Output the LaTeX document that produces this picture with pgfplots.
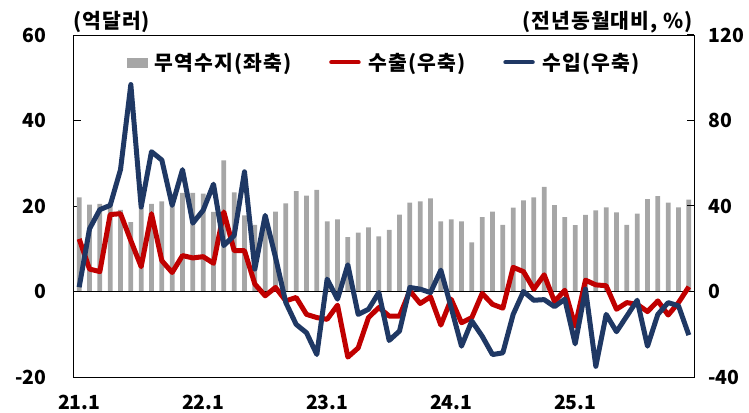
\documentclass[border=0pt]{standalone}
\usepackage{fontspec}
\setmainfont{Noto Sans CJK KR}
\usepackage{pgfplots}
\usepackage{pgfplotstable}
\pgfplotsset{compat=1.18}
\definecolor{barg}{HTML}{A6A6A6}
\definecolor{expred}{HTML}{C00000}
\definecolor{impblue}{HTML}{1F3864}
\newcommand{\kfont}{\fontsize{20.5}{24}\selectfont\bfseries\addfontfeatures{LetterSpace=5}}
\newcommand{\tfont}{\fontsize{19.5}{23}\selectfont\bfseries}
\pgfplotsset{
  redleg/.style={legend image code/.code={\draw[expred, line width=4.5bp, line cap=round] (0bp,0bp) -- (27bp,0bp);}},
  blueleg/.style={legend image code/.code={\draw[impblue, line width=4.5bp, line cap=round] (0bp,0bp) -- (27bp,0bp);}},
  barleg/.style={legend image code/.code={\fill[barg] (0bp,-4.5bp) rectangle (20bp,4.5bp);}},
}

\pgfplotstableread{
i bal exp imp
0 22.0 24.6 2.0
1 20.3 10.5 29.3
2 20.5 9.3 38.3
3 20.2 36.0 40.3
4 19.1 36.4 57.0
5 16.2 23.8 96.8
6 19.5 11.6 39.5
7 20.5 36.4 65.4
8 21.1 14.4 61.5
9 20.0 8.9 40.3
10 23.1 16.8 57.0
11 23.1 15.7 32.0
12 22.9 16.3 38.0
13 18.6 13.2 50.2
14 30.7 37.2 21.5
15 23.2 19.1 26.2
16 17.8 19.1 56.0
17 15.6 3.5 10.5
18 17.0 -2.0 35.6
19 18.7 1.9 16.0
20 20.6 -4.4 -5.2
21 23.5 -2.8 -15.4
22 22.4 -10.7 -19.3
23 23.8 -12.2 -29.5
24 16.4 -13.0 5.8
25 16.9 -6.4 -3.6
26 12.7 -30.7 12.5
27 13.8 -26.4 -10.7
28 15.0 -12.2 -8.3
29 12.9 -7.5 -0.5
30 14.4 -11.5 -22.9
31 18.0 -11.5 -18.5
32 20.8 0.3 1.9
33 21.1 -5.6 1.1
34 21.8 -2.5 -0.5
35 16.4 -15.7 10.0
36 16.9 -3.6 -7.5
37 16.4 -14.6 -25.6
38 11.5 -12.2 -13.8
39 17.4 -0.9 -20.9
40 18.7 -6.0 -29.5
41 15.6 -7.8 -28.7
42 19.6 11.3 -10.7
43 21.3 9.3 0.0
44 22.0 1.1 -4.1
45 24.5 7.8 -3.8
46 20.2 -4.7 -7.1
47 17.4 0.6 -3.6
48 15.5 -16.2 -24.5
49 17.9 5.3 1.1
50 19.0 3.1 -35.0
51 19.7 2.7 -10.7
52 18.5 -8.3 -18.8
53 15.6 -5.2 -11.5
54 18.2 -6.0 -4.1
55 21.6 -9.4 -25.6
56 22.3 -4.4 -10.7
57 20.8 -11.0 -5.2
58 19.7 -5.2 -6.7
59 21.5 2.2 -20.4
}\datatable

\begin{document}
\begin{tikzpicture}
\path[use as bounding box] (-74bp,-36bp) rectangle (675bp,377bp);
\begin{axis}[
  name=main,
  at={(0,0)}, anchor=south west,
  width=620bp, height=342bp, scale only axis,
  xmin=-0.5, xmax=59.5, ymin=-20, ymax=60,
  ytick={-20,0,20,40,60},
  xtick={0,12,24,36,48},
  xticklabels={21.1,22.1,23.1,24.1,25.1},
  xtick style={draw=none},
  ytick pos=left,
  tick align=inside,
  major tick length=7bp,
  axis line style={black, line width=1bp},
  ytick style={black, line width=1bp},
  ticklabel style={font=\tfont},
  /pgf/number format/assume math mode=true,
  yticklabel style={xshift=-24bp},
  xticklabel style={yshift=-15bp},
]
\addplot[ybar, bar width=4.7bp, fill=barg, draw=none] table[x=i,y=bal]{\datatable};
\addplot[black, line width=1.2bp, forget plot] coordinates {(-0.5,0) (59.5,0)};
\end{axis}
\begin{axis}[
  at={(0,0)}, anchor=south west,
  width=620bp, height=342bp, scale only axis,
  xmin=-0.5, xmax=59.5, ymin=-40, ymax=120,
  ytick={-40,0,40,80,120},
  axis y line*=right, axis x line=none,
  tick align=inside,
  major tick length=7bp,
  axis line style={black, line width=1bp},
  ytick style={black, line width=1bp},
  ticklabel style={font=\tfont},
  /pgf/number format/assume math mode=true,
  yticklabel style={xshift=11bp},
  legend columns=3,
  legend cell align=left,
  legend style={at={(0.5,0.96)}, anchor=north, draw=none, fill=none,
    font=\kfont,
    /tikz/every odd column/.append style={column sep=6bp},
    /tikz/every even column/.append style={column sep=36bp}},
]
\addlegendimage{barleg}
\addlegendentry{무역수지(좌축)}
\addplot[expred, line width=5bp, line join=round, redleg]
  table[x=i,y=exp]{\datatable};
\addlegendentry{수출(우축)}
\addplot[impblue, line width=5bp, line join=round, blueleg]
  table[x=i,y=imp]{\datatable};
\addlegendentry{수입(우축)}
\end{axis}
\node[anchor=base west, font=\kfont, inner sep=0pt]
  at ([xshift=-1bp,yshift=7bp]main.north west) {(억달러)};
\node[anchor=base east, font=\kfont, inner sep=0pt]
  at ([xshift=-1bp,yshift=7bp]main.north east) {(전년동월대비, \%)};
\end{tikzpicture}
\end{document}
